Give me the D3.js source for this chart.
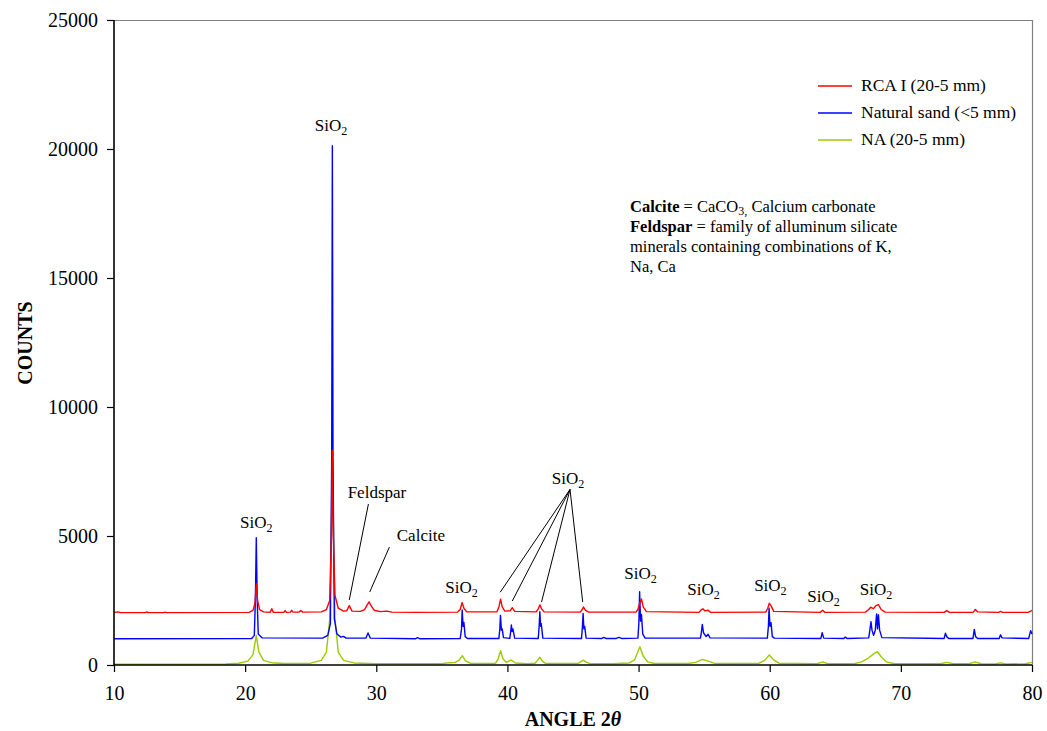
<!DOCTYPE html>
<html><head><meta charset="utf-8">
<script src="https://cdn.jsdelivr.net/npm/d3@7"></script>
<style>
body{margin:0;background:#fff;}
text{font-family:"Liberation Serif","Times New Roman",serif;fill:#000;}
</style></head>
<body>
<svg id="chart" width="1047" height="731"></svg>
<script>
// ---- data (angle 2θ, counts) ----
const seriesNames = ["RCA I (20-5 mm)", "Natural sand (<5 mm)", "NA (20-5 mm)"];
const seriesColors = ["#ff0000", "#0000ff", "#99cc00"];
const xTicks = [10,20,30,40,50,60,70,80];
const yTicks = [0,5000,10000,15000,20000,25000];

const rcaI = [
[10,2030],[10.3,2060],[10.5,2030],[12.4,2030],[12.5,2060],[12.6,2030],[13.8,2030],[13.9,2050],[14,2030],
[20.3,2040],[20.6,2120],[20.75,2400],[20.85,3150],[20.95,2500],[21.1,2150],[21.4,2060],
[21.9,2040],[22.03,2180],[22.15,2040],[22.95,2040],[23.05,2110],[23.15,2040],
[23.45,2050],[23.55,2120],[23.65,2050],[24.1,2050],[24.25,2110],[24.4,2050],
[25.8,2060],[26.2,2150],[26.45,2500],[26.58,5000],[26.65,8330],[26.72,5000],[26.85,2700],[27.1,2200],[27.5,2090],
[27.75,2100],[27.94,2300],[28.15,2090],[28.8,2080],[29.1,2150],[29.3,2320],[29.45,2450],[29.6,2300],[29.85,2120],[30.3,2070],[30.8,2090],[31.2,2050],
[33,2040],[36.2,2050],[36.4,2150],[36.54,2420],[36.7,2180],[36.9,2060],
[39.2,2060],[39.35,2250],[39.48,2550],[39.6,2250],[39.8,2090],
[40.2,2100],[40.37,2220],[40.55,2080],
[42.2,2060],[42.35,2180],[42.48,2330],[42.6,2180],[42.8,2060],
[45.55,2050],[45.7,2150],[45.79,2250],[45.95,2120],[46.2,2050],
[49.8,2050],[49.95,2150],[50.1,2420],[50.22,2560],[50.35,2250],[50.6,2070],
[54.6,2040],[54.8,2150],[54.9,2180],[55.05,2100],[55.3,2120],[55.5,2040],
[59.7,2050],[59.85,2200],[59.97,2390],[60.1,2300],[60.3,2080],
[63.85,2040],[64.04,2120],[64.2,2040],
[67.3,2050],[67.55,2150],[67.7,2240],[67.9,2180],[68.1,2300],[68.29,2340],[68.5,2150],[68.8,2050],
[73.3,2040],[73.5,2110],[73.7,2040],[75.5,2040],[75.68,2150],[75.85,2060],
[77.45,2040],[77.6,2080],[77.75,2040],[79.7,2040],[79.9,2090],[80,2120]
];

const naturalSand = [
[10,1020],[20.5,1030],[20.7,1150],[20.78,2500],[20.85,4930],[20.92,2500],[21.0,1200],[21.3,1050],
[25.9,1040],[26.3,1150],[26.5,1600],[26.6,8000],[26.65,20130],[26.7,8000],[26.8,1800],[27.0,1200],[27.3,1080],[27.5,1110],[27.7,1040],
[29.2,1040],[29.37,1240],[29.55,1040],[33.0,1020],[33.15,1060],[33.3,1020],
[36.4,1030],[36.5,1400],[36.55,2130],[36.62,1500],[36.68,1650],[36.78,1100],[36.95,1030],
[39.35,1030],[39.42,1400],[39.47,1925],[39.54,1350],[39.6,1400],[39.7,1060],
[40.18,1030],[40.25,1300],[40.3,1550],[40.36,1300],[40.42,1400],[40.55,1040],
[42.35,1030],[42.42,1500],[42.47,2070],[42.53,1500],[42.58,1600],[42.7,1040],
[45.65,1030],[45.72,1500],[45.77,2000],[45.83,1400],[45.89,1500],[46.0,1040],
[47.2,1030],[47.35,1070],[47.5,1030],[48.3,1030],[48.5,1070],[48.7,1030],
[49.95,1040],[50.02,1600],[50.08,2840],[50.15,1700],[50.22,1960],[50.32,1200],[50.5,1040],
[54.72,1040],[54.8,1300],[54.86,1575],[54.95,1250],[55.15,1100],[55.3,1190],[55.45,1050],
[59.82,1040],[59.9,1500],[59.95,2200],[60.02,1500],[60.1,1640],[60.2,1100],[60.35,1040],
[63.9,1030],[64.0,1250],[64.12,1040],[65.65,1030],[65.76,1080],[65.9,1030],
[67.55,1050],[67.65,1400],[67.72,1680],[67.8,1350],[67.92,1150],[68.05,1350],[68.15,1980],[68.22,1400],[68.29,1950],[68.38,1350],[68.55,1060],
[73.3,1030],[73.4,1230],[73.52,1080],[73.65,1030],[75.5,1030],[75.6,1380],[75.7,1100],[75.85,1030],
[77.5,1030],[77.6,1170],[77.72,1050],[79.75,1030],[79.9,1330],[80,1200]
];

const na = [
[10,30],[18.5,40],[19.5,70],[20.2,150],[20.6,400],[20.85,1150],[21.05,500],[21.4,180],[22,90],[23,60],
[25,70],[25.8,180],[26.2,500],[26.45,1800],[26.65,8000],[26.85,1800],[27.1,500],[27.5,180],[28.3,80],[30,50],
[35,50],[35.6,90],[36.0,100],[36.3,180],[36.56,360],[36.8,160],[37.2,60],
[39.1,70],[39.3,250],[39.48,555],[39.65,250],[39.9,100],[40.3,195],[40.6,80],[41.5,50],
[42.1,70],[42.3,180],[42.48,300],[42.65,160],[42.9,60],
[45.4,60],[45.6,130],[45.79,190],[46.0,110],[46.3,50],
[48,50],[49.3,80],[49.7,200],[50.1,710],[50.35,350],[50.7,120],[51.2,60],
[53.8,60],[54.4,110],[54.87,220],[55.3,150],[55.8,60],
[59.2,70],[59.6,180],[59.97,390],[60.3,200],[60.7,70],
[63.6,50],[64.04,120],[64.4,50],
[66.5,60],[67.0,120],[67.5,260],[67.9,420],[68.22,515],[68.5,320],[68.9,120],[69.5,50],
[73.0,50],[73.5,100],[74,50],[75.2,50],[75.65,120],[76.1,50],[77.2,40],[77.6,80],[78,40],[79.5,50],[80,100]
];

// peak labels: [angle, counts at label baseline]
const sio2Labels = [[20.85,5300],[26.55,20700],[36.5,2800],[50.15,3350],[54.95,2700],[60.05,2870],[64.1,2440],[68.1,2720]];
const sio2Group = {label:[44.62,7000], peaks:[[39.45,2820],[40.37,2480],[42.6,2440],[45.74,2440]]};
const otherLabels = [{text:"Feldspar", at:[30.05,6470], line:[[29.4,6240],[27.94,2520]]},
                     {text:"Calcite", at:[33.4,4800], line:[[31.0,4570],[29.5,2830]]}];

// ---- chart ----
const svg = d3.select("#chart");
const m = {left:114, right:1032, top:20, bottom:665};
const x = d3.scaleLinear().domain([10,80]).range([m.left, m.right]);
const y = d3.scaleLinear().domain([0,25000]).range([m.bottom, m.top]);

// frame (top & right in gray)
svg.append("line").attr("x1",m.left).attr("x2",m.right).attr("y1",m.top+0.5).attr("y2",m.top+0.5).attr("stroke","#808080").attr("stroke-width",1.2);
svg.append("line").attr("x1",m.right+0.5).attr("x2",m.right+0.5).attr("y1",m.top).attr("y2",m.bottom).attr("stroke","#808080").attr("stroke-width",1.2);

const line = d3.line().x(d=>x(d[0])).y(d=>y(d[1]));
const data = [rcaI, naturalSand, na];
const order = [2,1,0];
order.forEach(i=>{
  svg.append("path").datum(data[i]).attr("d",line).attr("fill","none")
    .attr("stroke",seriesColors[i]).attr("stroke-width",1.4).attr("stroke-linejoin","round");
});

// axes
const xAxis = svg.append("g").attr("transform",`translate(0,${m.bottom})`)
  .call(d3.axisBottom(x).tickValues(xTicks).tickSize(7).tickPadding(14).tickFormat(d3.format("d")));
const yAxis = svg.append("g").attr("transform",`translate(${m.left},0)`)
  .call(d3.axisLeft(y).tickValues(yTicks).tickSize(7).tickPadding(9).tickFormat(d3.format("d")));
[xAxis,yAxis].forEach(a=>{
  a.select(".domain").attr("stroke","#000").attr("stroke-width",1.6);
  a.selectAll(".tick line").attr("stroke","#000").attr("stroke-width",1.2);
  a.selectAll("text").style("font-family","'Liberation Serif','Times New Roman',serif").style("font-size","20px").attr("fill","#000");
});
xAxis.select(".domain").attr("d",`M${m.left},0H${m.right}`);
yAxis.select(".domain").attr("d",`M0,${m.top}V${m.bottom}`);

// axis titles
const xt = svg.append("text").attr("x",573).attr("y",726).attr("text-anchor","middle")
  .style("font-size","20px").style("font-weight","bold");
xt.append("tspan").text("ANGLE 2");
xt.append("tspan").style("font-style","italic").text("θ");
svg.append("text").attr("transform","translate(32,343) rotate(-90)").attr("text-anchor","middle")
  .style("font-size","20px").style("font-weight","bold").text("COUNTS");

// SiO2 labels
function sio2(px,py){
  const t = svg.append("text").attr("x",px).attr("y",py).attr("text-anchor","middle").style("font-size","17px");
  t.append("tspan").text("SiO");
  t.append("tspan").attr("dy",4).style("font-size","12px").text("2");
}
sio2Labels.forEach(d=>sio2(x(d[0]),y(d[1])));
sio2(x(sio2Group.label[0]),y(sio2Group.label[1]));
const apex = [x(sio2Group.label[0])+2, y(sio2Group.label[1])+5];
sio2Group.peaks.forEach(p=>{
  svg.append("line").attr("x1",apex[0]).attr("y1",apex[1]).attr("x2",x(p[0])).attr("y2",y(p[1]))
    .attr("stroke","#000").attr("stroke-width",1);
});
otherLabels.forEach(o=>{
  svg.append("text").attr("x",x(o.at[0])).attr("y",y(o.at[1])).attr("text-anchor","middle").style("font-size","17px").text(o.text);
  svg.append("line").attr("x1",x(o.line[0][0])).attr("y1",y(o.line[0][1])).attr("x2",x(o.line[1][0])).attr("y2",y(o.line[1][1]))
    .attr("stroke","#000").attr("stroke-width",1);
});

// legend
const lg = svg.append("g");
seriesNames.forEach((n,i)=>{
  const yy = 86 + i*27;
  lg.append("line").attr("x1",818).attr("x2",852).attr("y1",yy).attr("y2",yy).attr("stroke",seriesColors[i]).attr("stroke-width",1.6);
  lg.append("text").attr("x",861).attr("y",yy+5).style("font-size","17.5px").text(n);
});

// note text
const nt = svg.append("g").style("font-size","16.5px");
let t1 = nt.append("text").attr("x",630).attr("y",212);
t1.append("tspan").style("font-weight","bold").text("Calcite");
t1.append("tspan").text(" = CaCO");
t1.append("tspan").attr("dy",3).style("font-size","12px").text("3,");
t1.append("tspan").attr("dy",-3).text(" Calcium carbonate");
let t2 = nt.append("text").attr("x",630).attr("y",232);
t2.append("tspan").style("font-weight","bold").text("Feldspar");
t2.append("tspan").text(" = family of alluminum silicate");
nt.append("text").attr("x",630).attr("y",252).text("minerals containing combinations of K,");
nt.append("text").attr("x",630).attr("y",272).text("Na, Ca");
</script>
</body></html>
